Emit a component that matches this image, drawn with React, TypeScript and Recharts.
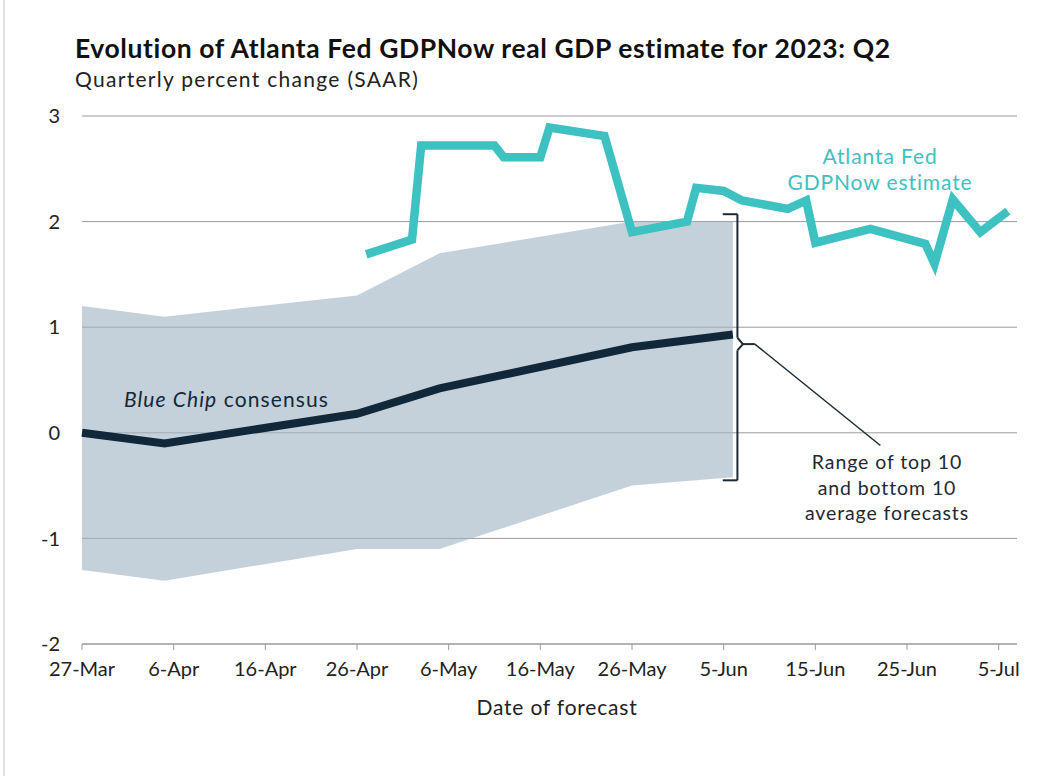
import React from "react";
import {
  ComposedChart,
  Line,
  Area,
  XAxis,
  YAxis,
  CartesianGrid,
  ReferenceLine,
} from "recharts";

// day 0 = 27-Mar-2023
const START = Date.UTC(2023, 2, 27);
const dayOf = (iso: string) =>
  Math.round((Date.parse(iso + "T00:00:00Z") - START) / 86400000);

const blueChipDates = ["2023-03-27", "2023-04-05", "2023-04-26", "2023-05-05", "2023-05-26", "2023-06-06"];
const blueChipValues = [0, -0.1, 0.18, 0.42, 0.81, 0.93];
const bandHigh = [1.2, 1.1, 1.3, 1.7, 2.0, 2.0];
const bandLow = [-1.3, -1.4, -1.1, -1.1, -0.5, -0.42];

const gdpNowDates = [
  "2023-04-27", "2023-05-02", "2023-05-03", "2023-05-11", "2023-05-12", "2023-05-16",
  "2023-05-17", "2023-05-23", "2023-05-26", "2023-06-01", "2023-06-02", "2023-06-05",
  "2023-06-07", "2023-06-12", "2023-06-14", "2023-06-15", "2023-06-21", "2023-06-27",
  "2023-06-28", "2023-06-30", "2023-07-03", "2023-07-06",
];
const gdpNowValues = [
  1.69, 1.83, 2.72, 2.72, 2.61, 2.61,
  2.89, 2.81, 1.9, 2.0, 2.32, 2.29,
  2.2, 2.12, 2.2, 1.8, 1.93, 1.79,
  1.6, 2.21, 1.9, 2.1,
];

const tickDates = [
  "2023-03-27", "2023-04-06", "2023-04-16", "2023-04-26", "2023-05-06",
  "2023-05-16", "2023-05-26", "2023-06-05", "2023-06-15", "2023-06-25", "2023-07-05",
];
const tickLabels = [
  "27-Mar", "6-Apr", "16-Apr", "26-Apr", "6-May",
  "16-May", "26-May", "5-Jun", "15-Jun", "25-Jun", "5-Jul",
];
const yTicks = [-2, -1, 0, 1, 2, 3];

type Row = { day: number; blueChip?: number; band?: [number, number]; gdpNow?: number };

const rows = new Map<number, Row>();
const rowFor = (d: number) => {
  if (!rows.has(d)) rows.set(d, { day: d });
  return rows.get(d)!;
};
blueChipDates.forEach((iso, i) => {
  const r = rowFor(dayOf(iso));
  r.blueChip = blueChipValues[i];
  r.band = [bandLow[i], bandHigh[i]];
});
gdpNowDates.forEach((iso, i) => {
  rowFor(dayOf(iso)).gdpNow = gdpNowValues[i];
});
const data = Array.from(rows.values()).sort((a, b) => a.day - b.day);

const tickDays = tickDates.map(dayOf);
const labelOf = (d: number) => tickLabels[tickDays.indexOf(d)] ?? "";

const FONT = "Lato, 'Noto Sans', sans-serif";
const TEAL = "#3ec1c1";
const NAVY = "#11283a";
const INK = "#1e2a33";

// bracket marking the range at the last survey (data coordinates)
const BX = 71.5;
const bracket: { x: number; y: number }[][] = [
  [{ x: 69.9, y: 2.07 }, { x: BX, y: 2.07 }],
  [{ x: BX, y: 2.07 }, { x: BX, y: 0.9 }],
  [{ x: BX, y: 0.9 }, { x: 72.1, y: 0.84 }],
  [{ x: 72.1, y: 0.84 }, { x: BX, y: 0.78 }],
  [{ x: BX, y: 0.78 }, { x: BX, y: -0.45 }],
  [{ x: BX, y: -0.45 }, { x: 69.9, y: -0.45 }],
  [{ x: 72.1, y: 0.84 }, { x: 73.4, y: 0.84 }],
  [{ x: 73.4, y: 0.84 }, { x: 87.1, y: -0.12 }],
];

const abs = (s: React.CSSProperties): React.CSSProperties => ({
  position: "absolute",
  fontFamily: FONT,
  lineHeight: 1,
  whiteSpace: "nowrap",
  ...s,
});

export default function App() {
  return (
    <div
      style={{
        position: "absolute",
        left: 0,
        top: 0,
        width: 1053,
        height: 776,
        background: "#fff",
        overflow: "hidden",
      }}
    >
      <div style={{ position: "absolute", left: 3, top: 0, width: 2, height: 776, background: "#e2e2e2" }} />
      <div style={abs({ left: 75, top: 35, fontSize: 26.5, fontWeight: 700, color: "#111", letterSpacing: 0.6 })}>
        Evolution of Atlanta Fed GDPNow real GDP estimate for 2023: Q2
      </div>
      <div style={abs({ left: 75, top: 68, fontSize: 21, color: "#222", letterSpacing: 1.3 })}>
        Quarterly percent change (SAAR)
      </div>

      <ComposedChart
        width={1053}
        height={776}
        data={data}
        margin={{ top: 116, right: 36, bottom: 100, left: 42 }}
      >
        <CartesianGrid vertical={false} stroke="#9a9a9a" strokeWidth={1} />
        <XAxis
          dataKey="day"
          type="number"
          domain={[0, 102]}
          ticks={tickDays}
          tickFormatter={labelOf}
          interval={0}
          height={32}
          axisLine={{ stroke: "#9a9a9a" }}
          tickLine={{ stroke: "#9a9a9a" }}
          tickSize={6}
          tickMargin={12}
          tick={{ fontSize: 20, fill: "#222", fontFamily: FONT }}
        />
        <YAxis
          type="number"
          domain={[-2, 3]}
          ticks={yTicks}
          interval={0}
          width={40}
          axisLine={false}
          tickLine={false}
          tickSize={0}
          tickMargin={22}
          tick={{ fontSize: 20, fill: "#222", fontFamily: FONT }}
        />
        <Area
          dataKey="band"
          type="linear"
          stroke="none"
          fill="#9fb5c3"
          fillOpacity={0.62}
          connectNulls
          isAnimationActive={false}
          dot={false}
          activeDot={false}
        />
        <Line
          dataKey="blueChip"
          type="linear"
          stroke={NAVY}
          strokeWidth={8}
          dot={false}
          activeDot={false}
          connectNulls
          isAnimationActive={false}
        />
        <Line
          dataKey="gdpNow"
          type="linear"
          stroke={TEAL}
          strokeWidth={8.5}
          dot={false}
          activeDot={false}
          connectNulls
          isAnimationActive={false}
        />
        {bracket.map((seg, i) => (
          <ReferenceLine
            key={i}
            segment={seg}
            stroke={INK}
            strokeWidth={i === 7 ? 1.5 : 2}
            ifOverflow="visible"
          />
        ))}
      </ComposedChart>

      <div style={abs({ left: 880, top: 143, fontSize: 21, color: TEAL, transform: "translateX(-50%)", textAlign: "center", lineHeight: "26px", letterSpacing: 0.9 })}>
        Atlanta Fed
        <br />
        GDPNow estimate
      </div>
      <div style={abs({ left: 124, top: 388, fontSize: 21, color: NAVY, letterSpacing: 1.1 })}>
        <i>Blue Chip</i> consensus
      </div>
      <div style={abs({ left: 887, top: 449, fontSize: 19.5, color: INK, transform: "translateX(-50%)", textAlign: "center", lineHeight: "25.5px", letterSpacing: 0.9 })}>
        Range of top 10
        <br />
        and bottom 10
        <br />
        average forecasts
      </div>
      <div style={abs({ left: 557, top: 696, fontSize: 21, color: "#222", transform: "translateX(-50%)", letterSpacing: 0.8 })}>
        Date of forecast
      </div>
    </div>
  );
}
